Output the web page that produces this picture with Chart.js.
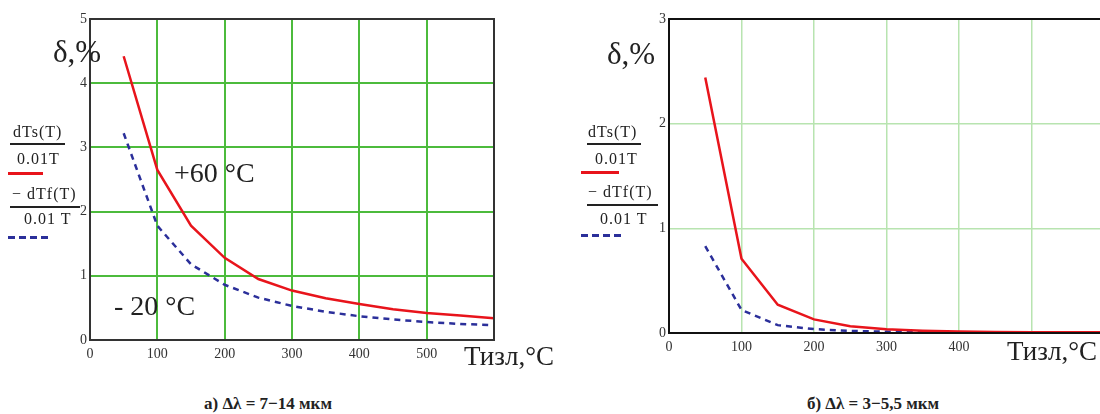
<!DOCTYPE html>
<html lang="ru">
<head>
<meta charset="UTF-8">
<script src="https://cdn.jsdelivr.net/npm/chart.js"></script>
<title>δ,% от Тизл</title>
<style>
  html, body { margin: 0; padding: 0; background: #fff; }
  body { width: 1100px; height: 414px; overflow: hidden; position: relative;
         font-family: "Liberation Serif", "DejaVu Serif", serif; color: #222; }
  .box { position: absolute; }
  .t { position: absolute; line-height: 1; white-space: nowrap; }
  .lg { font-size: 16px; letter-spacing: 1px; }
  .bar { position: absolute; height: 1.5px; background: #222; }
  .red { position: absolute; height: 3px; background: #e8141b; }
  .blue { position: absolute; height: 3px;
          background: repeating-linear-gradient(90deg, #2b2f9a 0 7px, transparent 7px 11px); }
  .cap { position: absolute; top: 395px; font-weight: bold; font-size: 17px; line-height: 1;
         transform: translateX(-50%); white-space: nowrap; }
</style>
</head>
<body>
<div class="box" style="left:60px; top:0; width:440px; height:370px;"><canvas id="chartA"></canvas></div>
<div class="box" style="left:640px; top:0; width:470px; height:370px;"><canvas id="chartB"></canvas></div>

<!-- подписи левого графика -->
<div class="t" style="left:53px; top:36px; font-size:31px;">δ,%</div>
<div class="t" style="left:174px; top:159px; font-size:28px;">+60 °C</div>
<div class="t" style="left:114px; top:292px; font-size:28px;">- 20 °C</div>
<div class="t" style="left:464px; top:343px; font-size:27px;">Тизл,°C</div>

<div class="t lg" style="left:13px; top:124px;">dTs(T)</div>
<div class="bar" style="left:10px; top:143px; width:55px;"></div>
<div class="t lg" style="left:17px; top:151px;">0.01T</div>
<div class="red" style="left:8px; top:172px; width:35px;"></div>
<div class="t lg" style="left:12px; top:186px;">− dTf(T)</div>
<div class="bar" style="left:10px; top:206px; width:70px;"></div>
<div class="t lg" style="left:24px; top:211px;">0.01 T</div>
<div class="blue" style="left:8px; top:236px; width:40px;"></div>

<!-- подписи правого графика -->
<div class="t" style="left:607px; top:38px; font-size:31px;">δ,%</div>
<div class="t" style="left:1007px; top:338px; font-size:27px;">Тизл,°C</div>

<div class="t lg" style="left:588px; top:124px;">dTs(T)</div>
<div class="bar" style="left:587px; top:143px; width:54px;"></div>
<div class="t lg" style="left:595px; top:151px;">0.01T</div>
<div class="red" style="left:581px; top:171px; width:38px;"></div>
<div class="t lg" style="left:588px; top:184px;">− dTf(T)</div>
<div class="bar" style="left:587px; top:204px; width:71px;"></div>
<div class="t lg" style="left:600px; top:211px;">0.01 T</div>
<div class="blue" style="left:581px; top:234px; width:40px;"></div>

<div class="cap" style="left:268px;">а) Δλ = 7−14 мкм</div>
<div class="cap" style="left:873px;">б) Δλ = 3−5,5 мкм</div>

<script>
// температура изделия, °C
const tIzl = [50, 100, 150, 200, 250, 300, 350, 400, 450, 500, 550, 600];

// а) 7-14 мкм
const dTsA = [4.42, 2.65, 1.78, 1.28, 0.95, 0.77, 0.65, 0.56, 0.48, 0.42, 0.38, 0.34];
const dTfA = [3.22, 1.78, 1.18, 0.86, 0.66, 0.53, 0.44, 0.37, 0.32, 0.28, 0.25, 0.23];

// б) 3-5,5 мкм
const dTsB = [2.44, 0.71, 0.27, 0.13, 0.065, 0.035, 0.022, 0.014, 0.01, 0.008, 0.007, 0.006];
const dTfB = [0.83, 0.22, 0.075, 0.037, 0.02, 0.012, 0.008, 0.006, 0.005, 0.004, 0.004, 0.003];

const xTicks = [0, 100, 200, 300, 400, 500, 600];

function pts(ys) {
    return tIzl.map((x, i) => ({ x: x, y: ys[i] }));
}

// рамка вокруг области графика
const frame = {
    id: 'frame',
    afterDraw(chart) {
        const a = chart.chartArea, c = chart.ctx;
        c.save();
        c.strokeStyle = chart.options.plugins.frame.color;
        c.lineWidth = 2;
        c.strokeRect(a.left, a.top, a.right - a.left, a.bottom - a.top);
        c.restore();
    }
};

function makeChart(id, s, f, yMax, opt) {
    return new Chart(document.getElementById(id), {
        type: 'line',
        data: {
            datasets: [
                { data: pts(s), borderColor: '#e8141b', borderWidth: 2.5, pointRadius: 0, tension: 0 },
                { data: pts(f), borderColor: '#2b2f9a', borderWidth: 2.5, borderDash: [6, 5], pointRadius: 0, tension: 0 }
            ]
        },
        options: {
            responsive: false,
            animation: false,
            layout: { padding: opt.pad },
            plugins: { legend: { display: false }, tooltip: { enabled: false }, frame: { color: opt.frame } },
            scales: {
                x: {
                    type: 'linear', min: 0, max: 600,
                    afterBuildTicks: ax => { ax.ticks = xTicks.map(v => ({ value: v })); },
                    afterFit: ax => { ax.height = 25; },
                    grid: { color: opt.grid, lineWidth: opt.gw, drawTicks: false },
                    border: { display: false },
                    ticks: {
                        padding: 6, color: '#333',
                        font: { family: 'Liberation Serif', size: 14 },
                        callback: v => opt.hideX.includes(v) ? '' : v
                    }
                },
                y: {
                    min: 0, max: yMax,
                    ticks: { stepSize: 1, padding: 3, color: '#333', font: { family: 'Liberation Serif', size: 14 } },
                    afterFit: ax => { ax.width = opt.yw; },
                    grid: { color: opt.grid, lineWidth: opt.gw, drawTicks: false },
                    border: { display: false }
                }
            }
        },
        plugins: [frame]
    });
}

const cA = document.getElementById('chartA');
cA.width = 440; cA.height = 370;
makeChart('chartA', dTsA, dTfA, 5, {
    pad: { top: 19, right: 3, bottom: 5, left: 0 },
    yw: 30, grid: '#4cbb3c', gw: 2, frame: '#333', hideX: [600]
});

const cB = document.getElementById('chartB');
cB.width = 470; cB.height = 370;
makeChart('chartB', dTsB, dTfB, 3, {
    pad: { top: 19, right: 1, bottom: 12, left: 0 },
    yw: 29, grid: '#b8e4b0', gw: 1.5, frame: '#111', hideX: [500, 600]
});
</script>
</body>
</html>
